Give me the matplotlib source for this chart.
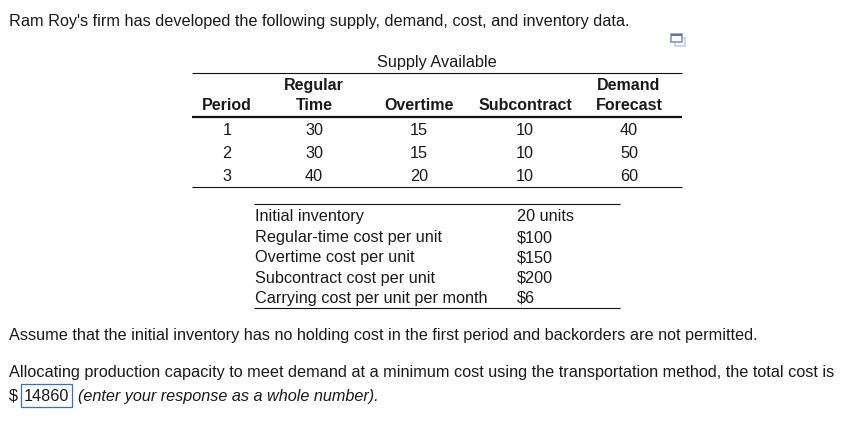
import matplotlib
matplotlib.use("Agg")
import matplotlib.pyplot as plt
from matplotlib.patches import Rectangle

plt.rcParams['font.family'] = ['Liberation Sans', 'DejaVu Sans']

intro = "Ram Roy's firm has developed the following supply, demand, cost, and inventory data."
supply_title = "Supply Available"
periods = ["1", "2", "3"]
regular_time = ["30", "30", "40"]
overtime = ["15", "15", "20"]
subcontract = ["10", "10", "10"]
demand = ["40", "50", "60"]
cost_labels = ["Initial inventory", "Regular-time cost per unit", "Overtime cost per unit",
               "Subcontract cost per unit", "Carrying cost per unit per month"]
cost_values = ["20 units", "$100", "$150", "$200", "$6"]
note = "Assume that the initial inventory has no holding cost in the first period and backorders are not permitted."
question = "Allocating production capacity to meet demand at a minimum cost using the transportation method, the total cost is"
answer = "14860"
hint = "(enter your response as a whole number)."

W, H = 848, 421
FS = 11.68
TXT = "#1a1a1a"
fig = plt.figure(figsize=(W / 100, H / 100), dpi=100)
ax = fig.add_axes([0, 0, 1, 1])
ax.set_xlim(0, W)
ax.set_ylim(H, 0)
ax.axis("off")

def t(x, y, s, ha="left", **kw):
    kw.setdefault("fontsize", FS)
    kw.setdefault("color", TXT)
    ax.text(x, y, s, ha=ha, va="baseline", **kw)

def hline(x0, x1, y, lw):
    ax.plot([x0, x1], [y, y], color="#111111", lw=lw, solid_capstyle="butt")

t(9, 26, intro)
t(437, 67, supply_title, ha="center")

hline(192, 682, 72.5, 0.8)
hline(192, 682, 117, 1.6)
hline(192, 682, 187, 0.8)

columns = [227, 314, 419, 525, 629]
t(columns[1], 90, "Regular", ha="center", fontweight="bold", fontsize=11.5)
t(columns[4], 90, "Demand", ha="center", fontweight="bold", fontsize=11.5)
for x, s in zip(columns, ["Period", "Time", "Overtime", "Subcontract", "Forecast"]):
    t(x, 110, s, ha="center", fontweight="bold", fontsize=11.5)
for row_y, row in zip([135, 158, 181], zip(periods, regular_time, overtime, subcontract, demand)):
    for x, s in zip(columns, row):
        t(x, row_y, s, ha="center")

hline(254, 620, 204, 0.8)
hline(254, 620, 308, 0.8)
for row_y, a, b in zip([221, 242, 262, 283, 303], cost_labels, cost_values):
    t(255, row_y, a)
    t(517, row_y, b)

t(9, 340, note)
t(9, 377, question)
t(9, 401, "$")
ax.add_patch(Rectangle((20.5, 383.5), 51, 23, fill=False, ec="#3f6fb5", lw=0.9))
t(46, 401, answer, ha="center")
t(78, 401, hint, style="italic")

# small window icon
ax.add_patch(Rectangle((674.5, 37.5), 10.5, 8, fc="white", ec="#c5cfe8", lw=1.2))
ax.add_patch(Rectangle((670.5, 33.5), 11, 8, fc="white", ec="#8497c9", lw=1.2))
ax.add_patch(Rectangle((670.5, 33.5), 11, 2.2, fc="#5c75b5", ec="none"))

fig.savefig("out.png", dpi=100, facecolor="white")
